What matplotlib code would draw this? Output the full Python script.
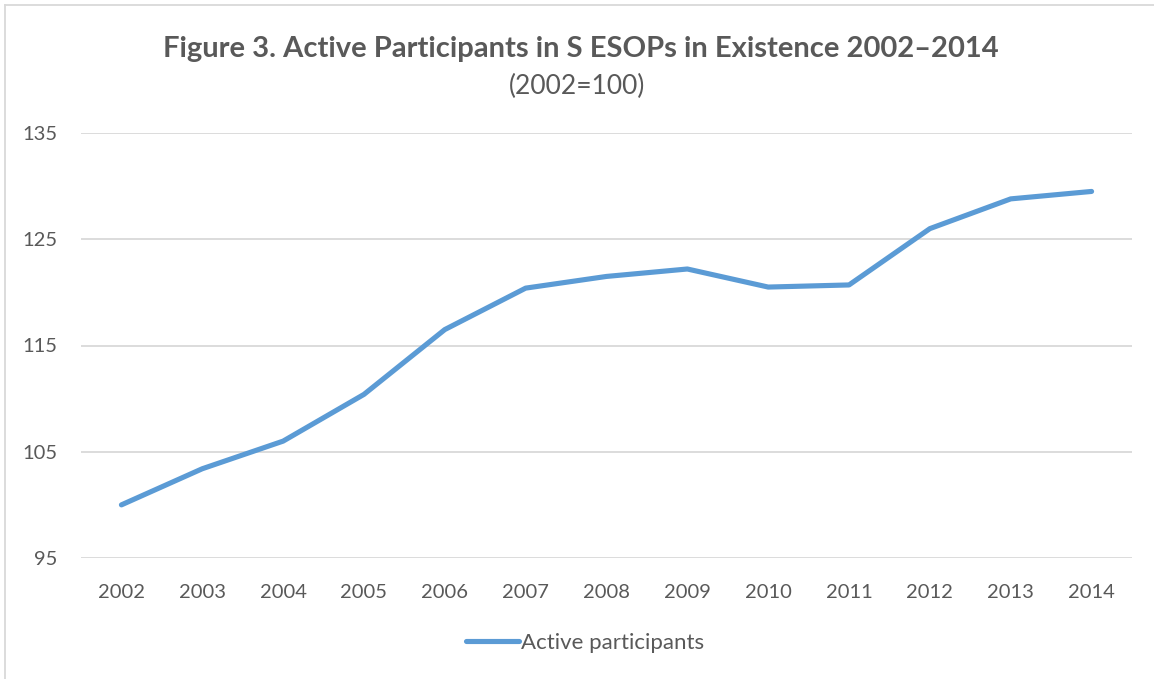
import matplotlib.pyplot as plt
from matplotlib.lines import Line2D

years = ["2002", "2003", "2004", "2005", "2006", "2007", "2008",
         "2009", "2010", "2011", "2012", "2013", "2014"]
participants = [100.0, 103.4, 106.0, 110.4, 116.5, 120.4, 121.5,
                122.2, 120.5, 120.7, 126.0, 128.8, 129.5]
y_ticks = [95, 105, 115, 125, 135]

plt.rcParams["font.family"] = ["Lato", "DejaVu Sans"]
text_color = "#595959"
line_color = "#5B9BD5"

W, H = 1154, 679
fig = plt.figure(figsize=(W / 100, H / 100), dpi=100)
ax = fig.add_axes([81 / W, (H - 558) / H, (1132 - 81) / W, (558 - 133) / H])

x = list(range(len(years)))
ax.plot(x, participants, color=line_color, linewidth=3.7,
        solid_capstyle="round", solid_joinstyle="round",
        label="Active participants")

ax.set_xlim(-0.5, len(years) - 0.5)
ax.set_ylim(95, 135)
ax.set_yticks(y_ticks)
ax.set_xticks(x)
ax.set_xticklabels(years)
ax.grid(axis="y", color="#d9d9d9", linewidth=1.3)
ax.set_axisbelow(True)
for side in ax.spines.values():
    side.set_visible(False)
ax.tick_params(length=0, labelsize=14.5, labelcolor=text_color)
ax.tick_params(axis="x", pad=19)
ax.tick_params(axis="y", pad=17)

fig.text(0.503, (H - 49) / H, "Figure 3. Active Participants in S ESOPs in Existence 2002\u20132014",
         ha="center", va="center", fontsize=21, fontweight="bold", color=text_color)
fig.text(0.5, (H - 86) / H, "(2002=100)", ha="center", va="center",
         fontsize=19, color=text_color)

fig.legend(loc="center", bbox_to_anchor=(0.507, (H - 643) / H), frameon=False,
           fontsize=16, labelcolor=text_color, handlelength=2.4,
           handletextpad=0.1)

# outer chart frame (only top and left edges show)
fig.add_artist(Line2D([5 / W, 1], [(H - 5) / H] * 2, color="#d9d9d9", linewidth=1.3))
fig.add_artist(Line2D([5 / W] * 2, [0, (H - 5) / H], color="#d9d9d9", linewidth=1.3))

fig.savefig("out.png", dpi=100)
